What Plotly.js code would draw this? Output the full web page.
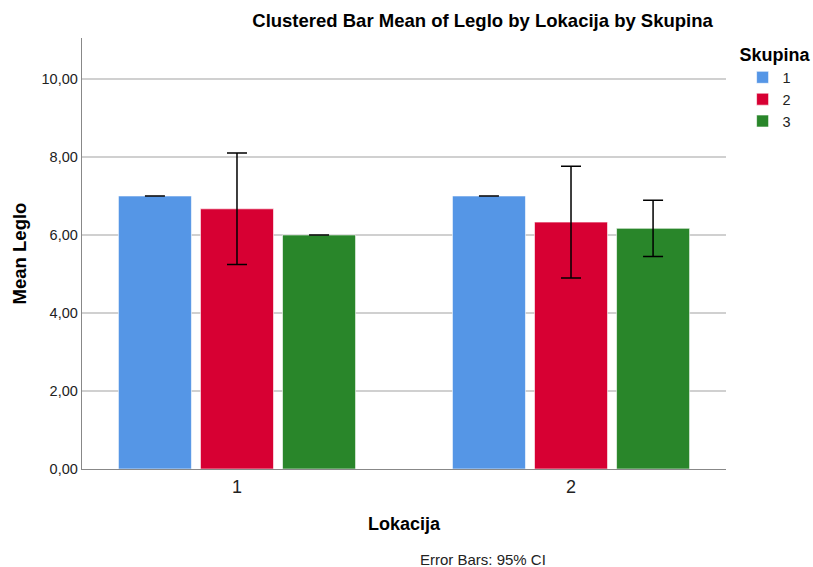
<!DOCTYPE html>
<html><head><meta charset="utf-8">
<script src="https://cdn.plot.ly/plotly-3.0.1.min.js"></script>
<style>body{margin:0;background:#fff}#c{width:813px;height:567px}</style>
</head><body><div id="c"></div>
<script>
var lokacija = ['1', '2'];
var groups = ['1', '2', '3'];
var mean1 = [7.00, 7.00];
var mean2 = [6.67, 6.33];
var mean3 = [6.00, 6.17];
var ci1 = [0.00, 0.00];
var ci2 = [1.43, 1.43];
var ci3 = [0.00, 0.72];
var colors = ['#5596E6', '#D70033', '#29862A'];

var means = [mean1, mean2, mean3];
var cis = [ci1, ci2, ci3];
var traces = groups.map(function (g, i) {
  return {
    type: 'bar', name: g, x: lokacija, y: means[i],
    marker: {color: colors[i], line: {color: 'rgba(255,255,255,0.6)', width: 1}},
    error_y: {type: 'data', array: cis[i], visible: true, color: '#000', thickness: 1.5, width: 10}
  };
});

var layout = {
  width: 813, height: 567,
  margin: {l: 82, r: 87, t: 38, b: 98, autoexpand: false},
  paper_bgcolor: '#fff', plot_bgcolor: '#fff',
  separators: ',.',
  font: {family: 'Liberation Sans, Arial, sans-serif', color: '#000'},
  title: {text: '<b>Clustered Bar Mean of Leglo by Lokacija by Skupina</b>', font: {size: 18.5, color: '#000'},
          x: 0.622, xanchor: 'center', xref: 'paper', y: 0.963, yanchor: 'middle'},
  barmode: 'group', bargap: 0.263, bargroupgap: 0.11,
  xaxis: {type: 'category', range: [-0.464, 1.464], showgrid: false, zeroline: false,
          showline: true, linecolor: '#888', linewidth: 1, ticks: '', ticklabelstandoff: 1,
          tickfont: {size: 18, color: '#222'},
          title: {text: '<b>Lokacija</b>', font: {size: 18, color: '#000'}, standoff: 21}},
  yaxis: {range: [0, 11.05], tickvals: [0, 2, 4, 6, 8, 10], tickformat: '.2f',
          showgrid: true, gridcolor: '#d0d0d0', gridwidth: 1.3, zeroline: false,
          showline: true, linecolor: '#888', linewidth: 1.3, ticks: '',
          tickfont: {size: 14.5, color: '#222'},
          title: {text: '<b>Mean Leglo</b>', font: {size: 18.5, color: '#000'}, standoff: 10}},
  legend: {x: 1.018, xanchor: 'left', y: 1.0, yanchor: 'top', bgcolor: 'rgba(0,0,0,0)', indentation: 5,
           title: {text: '<b>Skupina</b>', font: {size: 18, color: '#000'}},
           font: {size: 14.5, color: '#222'}, itemwidth: 30, tracegroupgap: 0},
  annotations: [{text: 'Error Bars: 95% CI', xref: 'paper', yref: 'paper', x: 0.622, y: -0.211,
                 xanchor: 'center', yanchor: 'middle', showarrow: false, font: {size: 15, color: '#222'}}]
};
Plotly.newPlot('c', traces, layout, {displayModeBar: false, staticPlot: true});
</script></body></html>
